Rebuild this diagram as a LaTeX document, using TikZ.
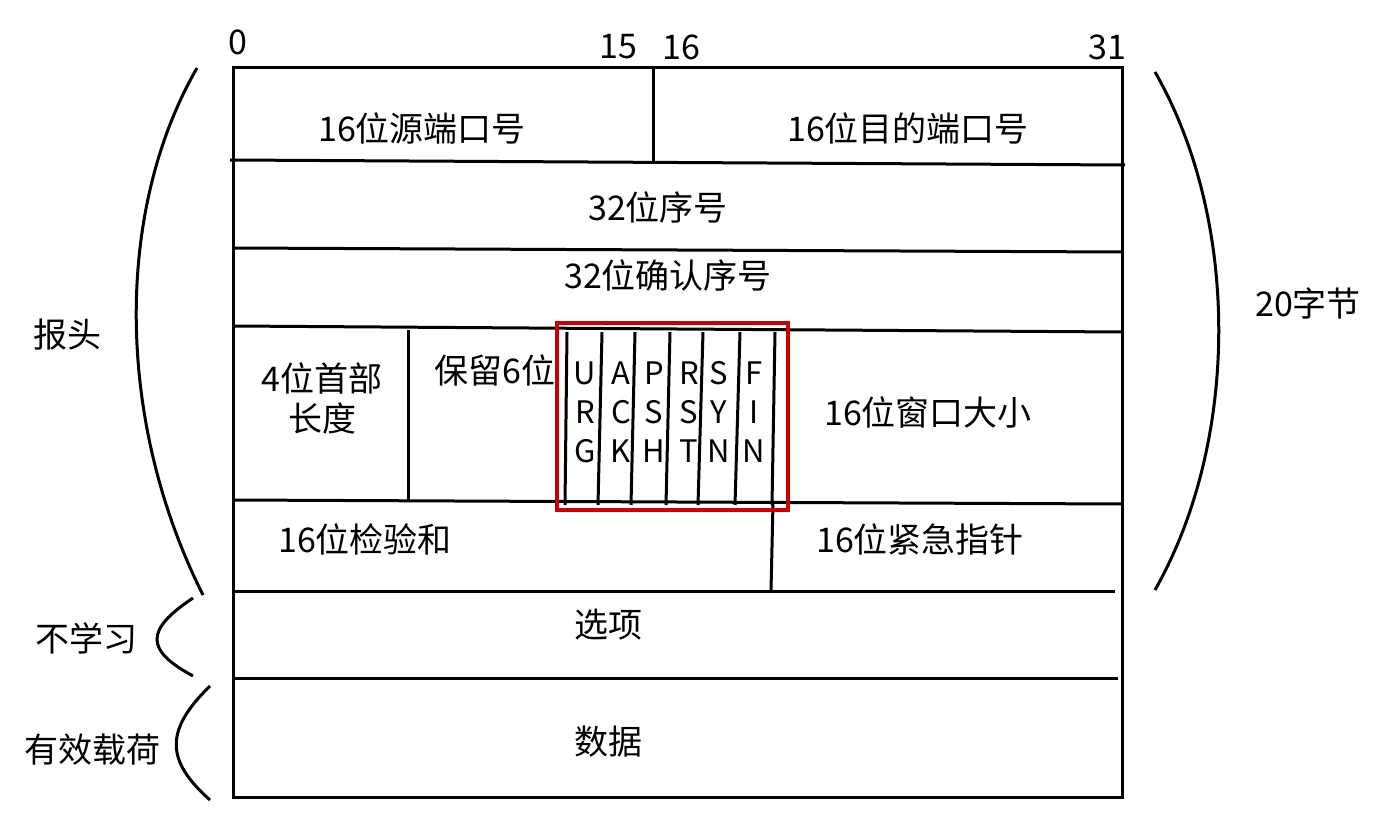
\documentclass[tikz,border=0pt]{standalone}
\usepackage{fontspec}
\setmainfont{Noto Sans CJK SC}
\begin{document}
\begin{tikzpicture}[x=1pt,y=-1pt,line width=3pt,
  t/.style={font=\fontsize{34}{40}\selectfont,inner sep=0pt},
  f/.style={font=\fontsize{31}{39}\selectfont,inner sep=0pt,align=center}]
\useasboundingbox (0,0) rectangle (1395,840);
\draw (233,68) rectangle (1122,797);
\draw (230,160) -- (1125,165);
\draw (233,248) -- (1122,252);
\draw (233,326) -- (1122,332);
\draw (233,500) -- (1122,504);
\draw (233,591) -- (1115,591);
\draw (233,678) -- (1118,678);
\draw (653,68) -- (653,162);
\draw (408,330) -- (408,500);
\draw (773,503) -- (771,591);
\foreach \x/\y in {567/565,602/598,635/631,670/666,703/698,740/735,775/772}
  \draw (\x,332) -- (\y,505);
\draw[red!80!black,line width=3.5pt] (557,323) rectangle (788,510);
\node[t] (n0) at (238,42) {0};
\node[t] (n15) at (618,47) {15};
\node[t] (n16) at (681,47) {16};
\node[t] (n31) at (1107,47) {31};
\node[t] (a) at (422,128) {16位源端口号};
\node[t] (b) at (908,128) {16位目的端口号};
\node[t] (c) at (658,208) {32位序号};
\node[t] (d) at (668,276) {32位确认序号};
\node[t,align=center] (e) at (322,398) {4位首部\\长度};
\node[t] (g) at (495,370) {保留6位};
\foreach \x/\s [count=\i] in {585/U\\R\\G,621/A\\C\\K,654/P\\S\\H,689/R\\S\\T,719/S\\Y\\N,754/F\\I\\N}
  \node[f] (fl\i) at (\x,412) {\s};
\node[t] (h) at (928,412) {16位窗口大小};
\node[t] (i) at (365,539) {16位检验和};
\node[t] (j) at (920,539) {16位紧急指针};
\node[t] (k) at (608,625) {选项};
\node[t] (l) at (608,742) {数据};
\node[t] (m) at (68,335) {报头};
\node[t] (o) at (86,638) {不学习};
\node[t] (p) at (92,750) {有效载荷};
\node[t] (q) at (1308,303) {20字节};
\draw (197,68) .. controls (115,210) and (115,420) .. (203,595);
\draw (193,598) .. controls (145,630) and (145,650) .. (193,676);
\draw (210,686) .. controls (165,730) and (165,760) .. (210,800);
\draw (1155,72) .. controls (1240,220) and (1240,440) .. (1155,590);
\end{tikzpicture}
\end{document}
